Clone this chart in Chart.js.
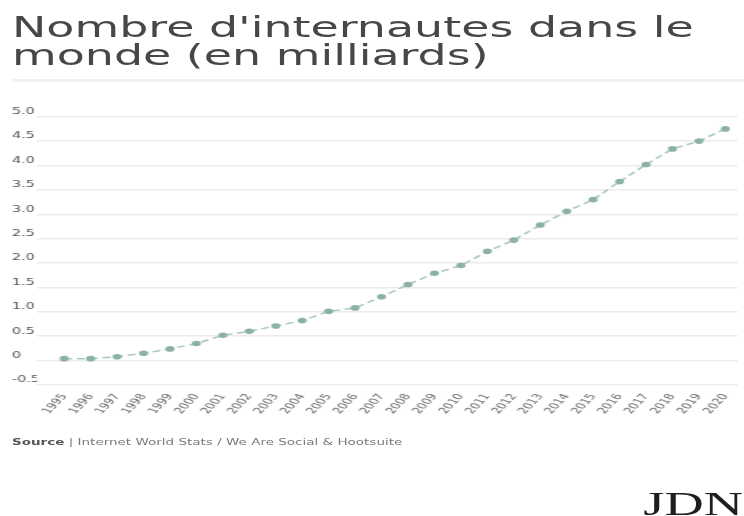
<!DOCTYPE html>
<html>
<head>
<meta charset="utf-8">
<script src="https://cdn.jsdelivr.net/npm/chart.js@4.4.1/dist/chart.umd.min.js"></script>
<style>
html, body { margin:0; padding:0; background:#fff; overflow:hidden; }
#page { position:absolute; left:0; top:0; width:465px; height:516px; transform:scaleX(1.6); transform-origin:0 0; font-family:'DejaVu Sans', sans-serif; }
#titre { position:absolute; left:7.5px; top:12.6px; margin:0; font-size:28.7px; line-height:28.5px; font-weight:normal; color:#474747; white-space:nowrap; }
#trait { position:absolute; left:7.5px; top:79px; width:457.5px; height:3px; background:#efefef; }
#graph { position:absolute; left:0; top:95px; width:465px; height:330px; }
#source { position:absolute; left:7.5px; top:437.8px; font-size:8.45px; line-height:9px; color:#7a7a7a; white-space:nowrap; }
#source b { color:#555; }
#jdn { position:absolute; right:0.6px; top:486.6px; font-family:'Liberation Serif', serif; font-size:34px; line-height:34px; color:#1e1e1e; }
</style>
</head>
<body>
<div id="page">
	<h1 id="titre">Nombre d'internautes dans le<br>monde (en milliards)</h1>
	<div id="trait"></div>
	<div id="graph"><canvas id="myChart"></canvas></div>
	<div id="source"><b>Source</b> | Internet World Stats / We Are Social &amp; Hootsuite</div>
	<div id="jdn">JDN</div>
</div>
<script>
// données (milliards d'internautes)
const annees = [1995, 1996, 1997, 1998, 1999, 2000, 2001, 2002, 2003, 2004, 2005, 2006, 2007,
	2008, 2009, 2010, 2011, 2012, 2013, 2014, 2015, 2016, 2017, 2018, 2019, 2020];
const internautes = [0.04, 0.04, 0.08, 0.15, 0.24, 0.35, 0.52, 0.60, 0.71, 0.82, 1.01, 1.08, 1.31,
	1.56, 1.79, 1.95, 2.24, 2.47, 2.78, 3.06, 3.30, 3.67, 4.02, 4.34, 4.50, 4.75];
const yTicks = [-0.5, 0, 0.5, 1, 1.5, 2, 2.5, 3, 3.5, 4, 4.5, 5];
const yTickLabels = ['-0.5', '0', '0.5', '1.0', '1.5', '2.0', '2.5', '3.0', '3.5', '4.0', '4.5', '5.0'];

let points = annees.map((a, i) => ({ x: a, y: internautes[i] }));

// pas de marge automatique autour des axes
function sansMarge(scale){
	scale.paddingLeft = 0;
	scale.paddingRight = 0;
	scale.paddingTop = 0;
	scale.paddingBottom = 0;
}

let ctx = document.getElementById('myChart').getContext('2d');
let chart = new Chart(ctx, {
	type : 'line',
	data : {
		datasets : [{
			data 								 : points,
			borderColor 				 : '#a7c9bb',
			borderWidth 				 : 1.5,
			borderDash 					 : [5, 3],
			pointRadius 				 : 2.8,
			pointBackgroundColor : '#8ab29f',
			pointBorderWidth 		 : 0,
			tension 						 : 0
		}]
	},
	options : {
		responsive 					: true,
		maintainAspectRatio : false,
		animation 					: false,
		layout : { padding : { left : 7.5, right : 3.1, top : 21.7, bottom : 0 } },
		plugins : { legend : { display : false }, tooltip : { enabled : false } },
		scales : {
			x : {
				type : 'linear',
				min  : 1993.97,
				max  : 2020.46,
				afterBuildTicks : (scale) => { scale.ticks = annees.map(v => ({ value : v })); },
				afterFit 				: (scale) => { scale.height = 40; sansMarge(scale); },
				grid 	 : { display : false, drawTicks : false },
				border : { display : false },
				ticks  : {
					autoSkip 		: false,
					minRotation : 58,
					maxRotation : 58,
					padding 		: 7,
					color 			: '#666',
					font 				: { family : 'DejaVu Sans', size : 8.5 },
					callback 		: (v, i) => String(annees[i])
				}
			},
			y : {
				min  : -0.5,
				max  : 5,
				afterBuildTicks : (scale) => { scale.ticks = yTicks.map(v => ({ value : v })); },
				afterFit 				: (scale) => { scale.width = 15.6; sansMarge(scale); },
				grid 	 : { color : '#ebebeb', lineWidth : 1.5, drawTicks : false },
				border : { display : false },
				ticks  : {
					crossAlign  : 'far',
					labelOffset : -5,
					padding 		: 0,
					color 			: '#555',
					font 				: { family : 'DejaVu Sans', size : 9 },
					callback 		: (v, i) => yTickLabels[i]
				}
			}
		}
	}
});
</script>
</body>
</html>
